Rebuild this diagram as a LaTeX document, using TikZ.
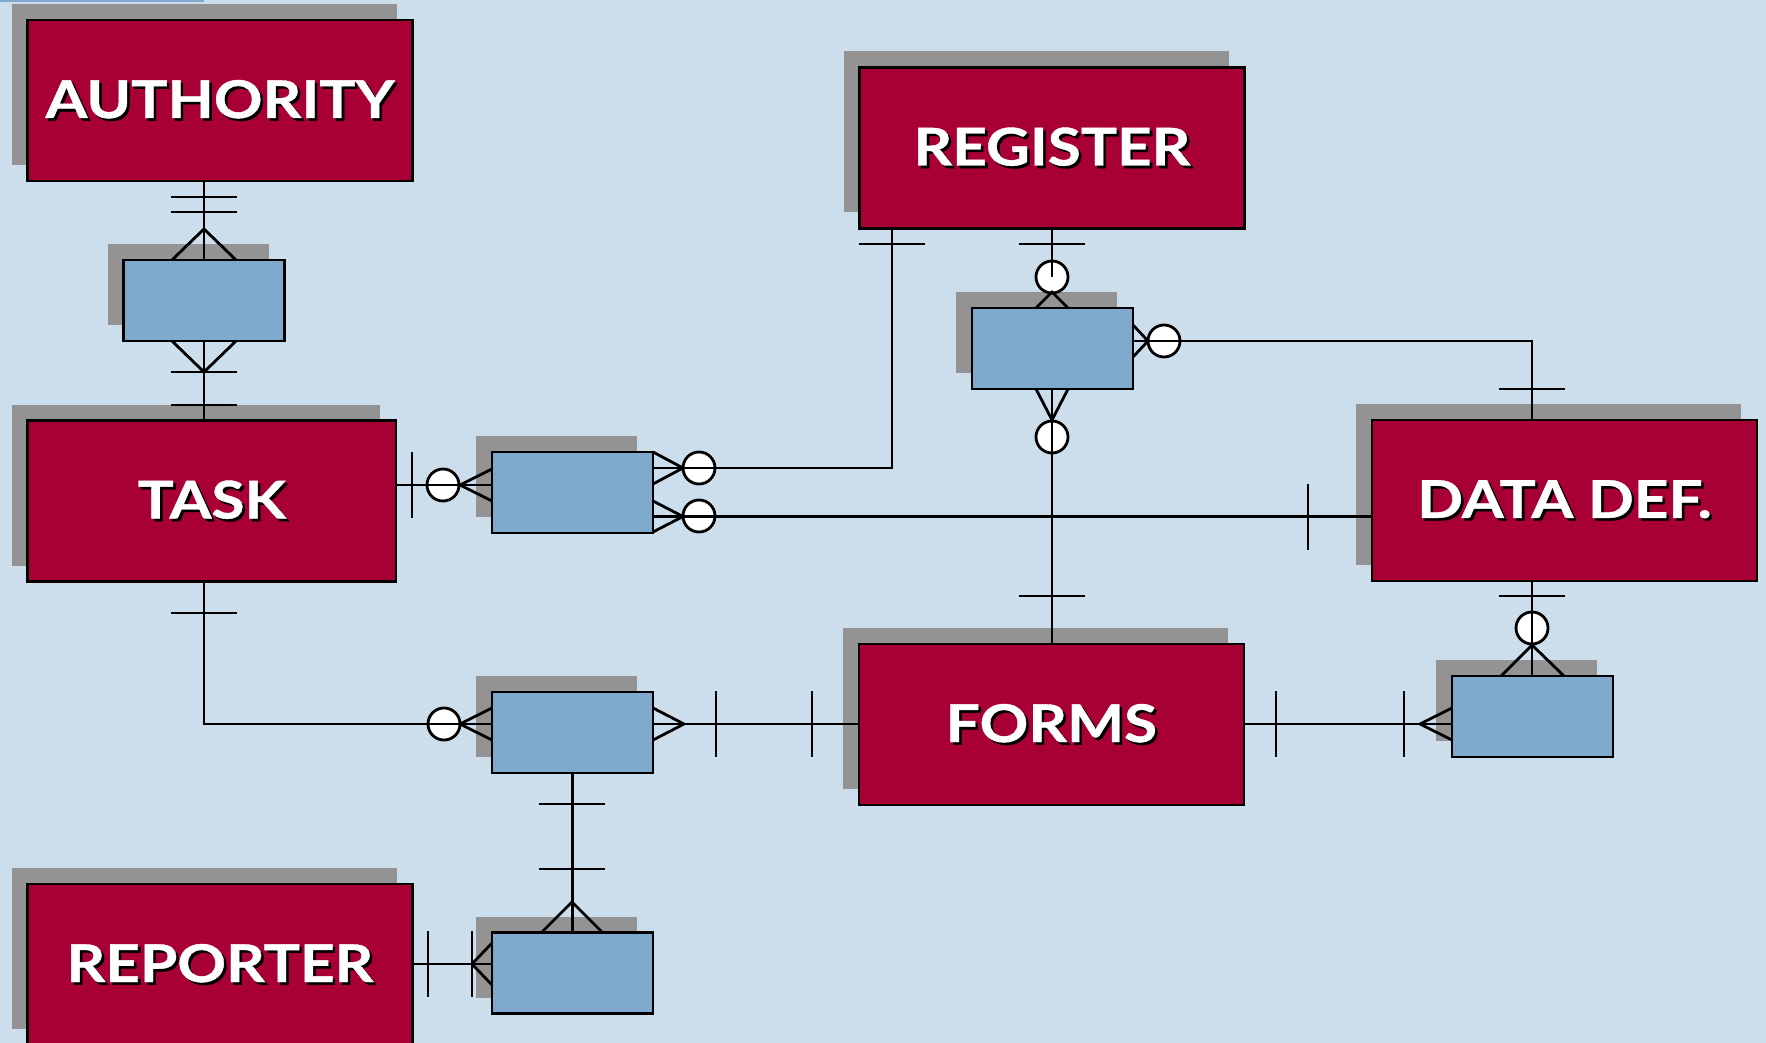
\documentclass[tikz,border=0pt]{standalone}
\usepackage{fontspec}
\usepackage{xcolor}
\usetikzlibrary{shadows}
\newfontfamily\entfont{Lato}[FakeStretch=1.16,FakeBold=0.8]
\definecolor{bgblue}{HTML}{CCDEEC}
\definecolor{entred}{HTML}{A80034}
\definecolor{relblue}{HTML}{7FA9CC}
\definecolor{shgray}{HTML}{939393}
\newcommand{\shtext}[1]{\rlap{\kern1.3pt\raisebox{-1.3pt}{\textcolor{black}{#1}}}\textcolor{white}{#1}}
\newcommand{\hcut}[2]{\draw ({#1-33},#2) -- ({#1+33},#2);}
\newcommand{\vcut}[2]{\draw (#1,{#2-33}) -- (#1,{#2+33});}
\newcommand{\ring}[2]{\draw[fill=white] (#1,#2) circle (16);}

\begin{document}
\begin{tikzpicture}[x=0.5pt,y=-0.5pt,line width=1.4pt,
  entity/.style={draw=black,fill=entred,minimum width=192.5pt,minimum height=80.5pt,inner sep=0pt,
    general shadow={fill=shgray,shadow xshift=-8pt,shadow yshift=8pt},
    font=\entfont\fontsize{26}{30}\selectfont\bfseries},
  relation/.style={draw=black,fill=relblue,minimum width=80.5pt,minimum height=40.5pt,inner sep=0pt,
    general shadow={fill=shgray,shadow xshift=-8pt,shadow yshift=8pt}}]
\useasboundingbox (0,0) rectangle (1766,1043);
\fill[bgblue] (0,0) rectangle (1766,1043);
\fill[relblue] (0,0) rectangle (204,2.5);

% entities
\node[entity] (auth) at (220,100.5) {\shtext{AUTHORITY}};
\node[entity] (reg) at (1052,148) {\shtext{REGISTER}};
\node[entity,minimum width=184.25pt] (task) at (211.75,501) {\shtext{TASK}};
\node[entity] (data) at (1564.5,500.5) {\shtext{DATA DEF.}};
\node[entity] (forms) at (1051.5,724.5) {\shtext{FORMS}};
\node[entity] (rep) at (220,964.5) {\shtext{REPORTER}};

% relations
\node[relation] (a1) at (204,300.5) {};
\node[relation] (a2) at (572.5,492.5) {};
\node[relation] (a3) at (1052.5,348.5) {};
\node[relation] (a4) at (572.5,732.5) {};
\node[relation] (a5) at (1532.5,716.5) {};
\node[relation] (a6) at (572.5,973) {};

% optional rings
\ring{443}{485} \ring{699}{468} \ring{699}{516}
\ring{1052}{277} \ring{1164}{341} \ring{1052}{437}
\ring{444}{724} \ring{1532}{628}

% authority - a1
\draw (a1.north |- auth.south) -- (a1.north);
\hcut{204}{197} \hcut{204}{212}
\draw (172,260) -- (204,229) -- (236,260);

% a1 - task
\draw (a1.south) -- (a1.south |- task.north);
\draw (172,341) -- (204,372) -- (236,341);
\hcut{204}{372} \hcut{204}{405}

% task - a2
\draw (task.east |- 0,485) -- (a2.west |- 0,485);
\vcut{412}{485}
\draw (492,469) -- (460,485) -- (492,501);

% a2 - register
\draw (a2.east |- 0,468) -| (reg.south -| 892,0);
\draw (653,452) -- (683,468) -- (653,484);
\hcut{892}{244}

% a2 - data def.
\draw (a2.east |- 0,516.5) -- (data.west |- 0,516.5);
\draw (653,501) -- (683,516.5) -- (653,532);
\vcut{1308}{516.5}

% register - a3
\draw (reg.south -| 1052,0) -- (1052,277);
\hcut{1052}{244}
\draw (1036,308) -- (1052,292) -- (1068,308);

% a3 - data def.
\draw (a3.east |- 0,341) -| (data.north -| 1532,0);
\draw (1133,325) -- (1148,341) -- (1133,357);
\hcut{1532}{389}

% a3 - forms
\draw (a3.south -| 1052,0) -- (forms.north -| 1052,0);
\draw (1036,389) -- (1052,420) -- (1068,389);
\hcut{1052}{596}

% task - a4
\draw (task.south -| 204,0) |- (a4.west |- 0,724);
\hcut{204}{613}
\draw (492,708) -- (460,724) -- (492,740);

% a4 - forms
\draw (a4.east |- 0,724) -- (forms.west |- 0,724);
\draw (653,708) -- (684,724) -- (653,740);
\vcut{716}{724} \vcut{812}{724}

% a4 - a6
\draw (a4.south) -- (a6.north);
\hcut{572}{804} \hcut{572}{869}
\draw (541,933) -- (572,902) -- (603,933);

% reporter - a6
\draw (rep.east |- 0,964) -- (a6.west |- 0,964);
\vcut{428}{964} \vcut{472}{964}
\draw (492,943) -- (472,964) -- (492,985);

% forms - a5
\draw (forms.east |- 0,724) -- (a5.west |- 0,724);
\vcut{1276}{724} \vcut{1404}{724}
\draw (1452,708) -- (1420,724) -- (1452,740);

% data def. - a5
\draw (data.south -| 1532,0) -- (a5.north -| 1532,0);
\hcut{1532}{596}
\draw (1501,676) -- (1532,645) -- (1564,676);
\end{tikzpicture}
\end{document}
